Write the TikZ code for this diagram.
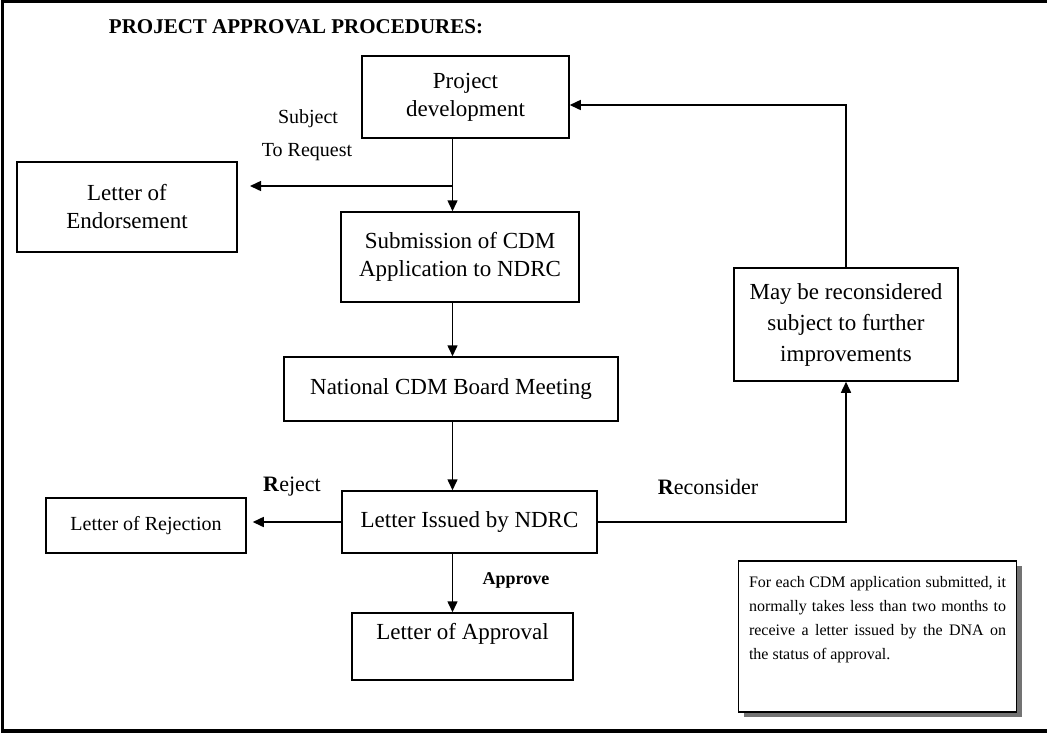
\documentclass[tikz,border=0pt]{standalone}
\usepackage{fontspec}
\setmainfont{Liberation Serif}
\usetikzlibrary{arrows.meta,shadows}
\begin{document}
\begin{tikzpicture}[x=0.5pt,y=-0.5pt,line width=0.75pt,
  >={Triangle[length=5.5pt,width=5pt]},
  box/.style={rectangle,draw=black,inner sep=0pt,align=center,font=\fontsize{11.5}{14}\selectfont},
  lbl/.style={inner sep=0pt,font=\fontsize{10}{12}\selectfont}]
\useasboundingbox (0,0) rectangle (1047,734);
\draw[line width=1.75pt] (1060,1.5) -- (2.5,1.5) -- (2.5,731) -- (1060,731);
\node[font=\bfseries\fontsize{10.5}{12}\selectfont] (title) at (296,27) {PROJECT APPROVAL PROCEDURES:};
\node[box,minimum width=103.5pt,minimum height=41pt] (proj) at (465.5,97) {Project\\development};
\node[box,minimum width=110pt,minimum height=45pt] (endorse) at (127,207) {Letter of\\Endorsement};
\node[box,minimum width=119pt,minimum height=45pt] (submit) at (460,257) {Submission of CDM\\Application to NDRC};
\node[box,minimum width=167pt,minimum height=32pt] (board) at (451,389) {National CDM Board Meeting};
\node[box,minimum width=127.5pt,minimum height=31pt] (issued) at (469.5,522) {Letter Issued by NDRC};
\node[box,minimum width=100pt,minimum height=27.5pt,font=\fontsize{10}{12}\selectfont] (reject) at (146,525.5) {Letter of Rejection};
\node[box,minimum width=110.5pt,text height=13pt,text depth=20.5pt] (approval) at (462.5,646.5) {Letter of Approval};
\node[box,minimum width=112pt,minimum height=56.5pt,font=\fontsize{11.5}{15.5}\selectfont] (may) at (846,324.5) {May be reconsidered\\subject to further\\improvements};
\node[box,anchor=north,align=justify,text width=128.5pt,inner xsep=5.25pt,inner ysep=8pt,text depth=54pt,
  font=\fontsize{8}{12}\selectfont,fill=white,
  drop shadow={shadow xshift=2.5pt,shadow yshift=-2.5pt,fill=black!55,opacity=1}] (note) at (877.5,560)
  {For each CDM application submitted, it\linebreak normally takes less than two months to\linebreak receive a letter issued by the DNA on\linebreak the status of approval.};
\coordinate (spine) at (452.5,0);
\coordinate (reqtip) at (250,186);
\draw[->] (proj.south -| spine) -- (submit.north -| spine);
\draw[->] (spine |- reqtip) -- (reqtip);
\draw[->] (submit.south -| spine) -- (board.north -| spine);
\draw[->] (board.south -| spine) -- (issued.north -| spine);
\draw[->] (issued.south -| spine) -- (approval.north -| spine);
\draw[->,shorten >=3pt] (issued.west) -- (reject.east |- issued.west);
\draw[->] (issued.east) -| (may.south);
\draw[->] (may.north) |- ([yshift=-4pt]proj.east);
\node[lbl] (subj) at (308,119) {Subject};
\node[lbl] (toreq) at (307,152) {To Request};
\node[lbl,font=\fontsize{11}{13}\selectfont] (rej) at (292,487) {\textbf{R}eject};
\node[lbl,font=\fontsize{11}{13}\selectfont] (recon) at (708,487) {\textbf{R}econsider};
\node[lbl,font=\bfseries\fontsize{9}{11}\selectfont] (appr) at (516,580) {Approve};
\end{tikzpicture}
\end{document}
